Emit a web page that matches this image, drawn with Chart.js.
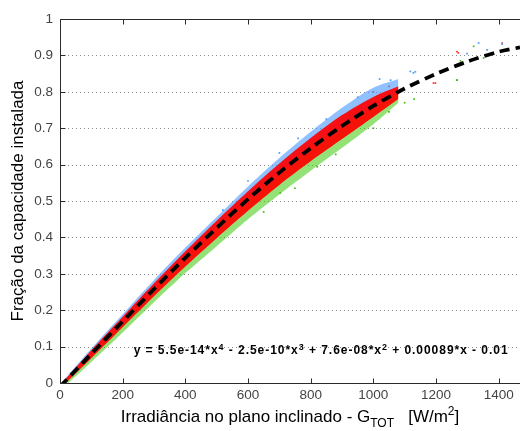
<!DOCTYPE html>
<html>
<head>
<meta charset="utf-8">
<script src="https://cdn.jsdelivr.net/npm/chart.js@4.4.0/dist/chart.umd.min.js"></script>
<style>
  html, body { margin: 0; padding: 0; background: #fff; }
  #wrap { width: 520px; height: 431px; }
</style>
</head>
<body>
<div id="wrap"><canvas id="grafico" width="520" height="431"></canvas></div>
<script>
// curva ajustada (tracejada)
const fitX = [0, 100, 200, 300, 400, 500, 600, 700, 800, 900, 1000, 1100, 1200, 1300, 1400, 1468];
const fitY = [-0.01, 0.080, 0.169, 0.258, 0.344, 0.426, 0.505, 0.578, 0.645, 0.706, 0.761, 0.809, 0.849, 0.883, 0.910, 0.922];

// nuvem de pontos: limites das faixas
const cloudX      = [15, 100, 200, 300, 400, 500, 600, 700, 800, 900, 1000, 1080];
const blueTop     = [0.011, 0.095, 0.189, 0.283, 0.372, 0.456, 0.540, 0.618, 0.690, 0.756, 0.811, 0.835];
const blueBottom  = [0.003, 0.080, 0.169, 0.258, 0.344, 0.426, 0.505, 0.578, 0.645, 0.706, 0.761, 0.800];
const redTop      = [0.008, 0.090, 0.182, 0.274, 0.362, 0.446, 0.527, 0.603, 0.673, 0.736, 0.786, 0.815];
const redBottom   = [-0.003, 0.068, 0.153, 0.238, 0.320, 0.398, 0.473, 0.544, 0.609, 0.670, 0.731, 0.780];
const greenTop    = [0.003, 0.080, 0.169, 0.258, 0.344, 0.426, 0.505, 0.578, 0.645, 0.706, 0.761, 0.800];
const greenBottom = [-0.009, 0.058, 0.139, 0.222, 0.302, 0.376, 0.450, 0.518, 0.583, 0.646, 0.711, 0.770];

// pontos isolados
const blueOutX  = [1055, 1118, 1128, 1134, 1299, 1336, 1363, 1411, 520, 600, 700, 760, 850, 950, 1020];
const blueOutY  = [0.832, 0.856, 0.852, 0.855, 0.905, 0.934, 0.915, 0.931, 0.475, 0.555, 0.632, 0.672, 0.725, 0.785, 0.835];
const redOutX   = [1192, 1198, 1267, 1271, 1411, 1000, 1050];
const redOutY   = [0.824, 0.824, 0.910, 0.907, 0.934, 0.800, 0.815];
const greenOutX = [1267, 1267, 1278, 1320, 1352, 650, 703, 750, 821, 880, 1000, 1050, 1100, 1130];
const greenOutY = [0.832, 0.832, 0.885, 0.925, 0.893, 0.470, 0.522, 0.535, 0.594, 0.628, 0.700, 0.745, 0.770, 0.780];

const yTicks = [0, 0.1, 0.2, 0.3, 0.4, 0.5, 0.6, 0.7, 0.8, 0.9, 1];
const xTicks = [0, 200, 400, 600, 800, 1000, 1200, 1400];

const eqParts = [
    ['y = 5.5e-14*x', '4'],
    [' - 2.5e-10*x', '3'],
    [' + 7.6e-08*x', '2'],
    [' + 0.00089*x - 0.01', '']
];

const FONT = '"Liberation Sans", Arial, Helvetica, sans-serif';

function pts(xs, ys) {
    return xs.map((x, i) => ({ x: x, y: ys[i] }));
}

function band(ys, color, fillTarget, order) {
    return {
        data: pts(cloudX, ys),
        showLine: true,
        borderWidth: 0,
        borderColor: 'rgba(0,0,0,0)',
        backgroundColor: color,
        pointRadius: 0,
        fill: fillTarget,
        tension: 0.3,
        clip: 0,
        order: order
    };
}

function dots(xs, ys, color) {
    return {
        data: pts(xs, ys),
        showLine: false,
        pointRadius: 1.2,
        pointStyle: 'rect',
        borderWidth: 0,
        backgroundColor: color,
        order: 5
    };
}

// grade pontilhada, moldura, marcas e textos
const moldura = {
    id: 'moldura',
    beforeDatasetsDraw(chart) {
        const { ctx, chartArea: a, scales: { y } } = chart;
        ctx.save();
        ctx.strokeStyle = '#8c8c8c';
        ctx.lineWidth = 1;
        ctx.setLineDash([1, 3]);
        yTicks.slice(1, -1).forEach(v => {
            const py = Math.round(y.getPixelForValue(v)) + 0.5;
            ctx.beginPath();
            ctx.moveTo(a.left, py);
            ctx.lineTo(a.right, py);
            ctx.stroke();
        });
        ctx.restore();
    },
    afterDatasetsDraw(chart) {
        const { ctx, chartArea: a, scales: { x, y } } = chart;
        ctx.save();
        ctx.strokeStyle = '#2b2b2b';
        ctx.lineWidth = 1;
        const L = Math.round(a.left) + 0.5, T = Math.round(a.top) + 0.5, B = Math.round(a.bottom) + 0.5;
        ctx.beginPath();
        ctx.moveTo(a.right, T); ctx.lineTo(L, T); ctx.lineTo(L, B); ctx.lineTo(a.right, B);
        ctx.stroke();
        xTicks.forEach(v => {
            const px = Math.round(x.getPixelForValue(v)) + 0.5;
            ctx.beginPath();
            ctx.moveTo(px, B); ctx.lineTo(px, B - 5);
            ctx.moveTo(px, T); ctx.lineTo(px, T + 5);
            ctx.stroke();
        });
        yTicks.forEach(v => {
            const py = Math.round(y.getPixelForValue(v)) + 0.5;
            ctx.beginPath();
            ctx.moveTo(L, py); ctx.lineTo(L + 5, py);
            ctx.stroke();
        });

        // equacao (largura ajustada com espacamento entre letras)
        const ex0 = x.getPixelForValue(235);
        const ey = y.getPixelForValue(0.080);
        ctx.fillStyle = '#000';
        ctx.textBaseline = 'alphabetic';
        let natural = 0, nChars = 0;
        eqParts.forEach(p => {
            ctx.font = 'bold 12px ' + FONT;
            natural += ctx.measureText(p[0]).width;
            nChars += p[0].length;
            if (p[1]) {
                ctx.font = 'bold 9px ' + FONT;
                natural += ctx.measureText(p[1]).width;
                nChars += 1;
            }
        });
        const sp = Math.max(0, (375 - natural) / nChars);
        ctx.letterSpacing = sp.toFixed(2) + 'px';
        let ex = ex0;
        eqParts.forEach(p => {
            ctx.font = 'bold 12px ' + FONT;
            ctx.fillText(p[0], ex, ey);
            ex += ctx.measureText(p[0]).width;
            if (p[1]) {
                ctx.font = 'bold 9px ' + FONT;
                ctx.fillText(p[1], ex, ey - 4);
                ex += ctx.measureText(p[1]).width;
            }
        });
        ctx.letterSpacing = '0px';

        // titulo eixo x
        const parts = [
            ['Irradiância no plano inclinado - G', 17, 0],
            ['TOT', 12, 5],
            ['   [W/m', 17, 0],
            ['2', 12, -7],
            [']', 17, 0]
        ];
        let w = 0;
        parts.forEach(p => { ctx.font = p[1] + 'px ' + FONT; w += ctx.measureText(p[0]).width; });
        let tx = (a.left + a.right) / 2 - w / 2;
        const ty = 422;
        parts.forEach(p => {
            ctx.font = p[1] + 'px ' + FONT;
            ctx.fillText(p[0], tx, ty + p[2]);
            tx += ctx.measureText(p[0]).width;
        });

        // titulo eixo y
        ctx.save();
        ctx.translate(23, (a.top + a.bottom) / 2);
        ctx.rotate(-Math.PI / 2);
        ctx.font = '17px ' + FONT;
        ctx.textAlign = 'center';
        ctx.fillText('Fração da capacidade instalada', 0, 0);
        ctx.restore();
        ctx.restore();
    }
};

const ctx = document.getElementById('grafico').getContext('2d');
const chart = new Chart(ctx, {
    type: 'scatter',
    data: {
        datasets: [
            {
                data: pts(fitX, fitY),
                showLine: true,
                borderColor: '#000',
                borderWidth: 3.8,
                borderDash: [10, 6],
                pointRadius: 0,
                fill: false,
                tension: 0.3,
                clip: 0,
                order: 0
            },
            band(redTop, 'rgba(255,0,0,0.92)', 2, 1),
            band(redBottom, 'rgba(0,0,0,0)', false, 1),
            band(greenTop, 'rgba(60,200,10,0.55)', 4, 2),
            band(greenBottom, 'rgba(0,0,0,0)', false, 2),
            band(blueTop, 'rgba(70,150,255,0.6)', 6, 3),
            band(blueBottom, 'rgba(0,0,0,0)', false, 3),
            dots(blueOutX, blueOutY, '#4a9cff'),
            dots(redOutX, redOutY, '#ff3030'),
            dots(greenOutX, greenOutY, '#40c010')
        ]
    },
    options: {
        responsive: false,
        animation: false,
        events: [],
        layout: { autoPadding: false, padding: { top: 19, right: 0, left: 0, bottom: 0 } },
        plugins: {
            legend: { display: false },
            tooltip: { enabled: false }
        },
        scales: {
            x: {
                type: 'linear',
                min: 0,
                max: 1468,
                grid: { display: false, drawTicks: false },
                border: { display: false },
                ticks: {
                    stepSize: 200,
                    includeBounds: false,
                    maxRotation: 0,
                    padding: 4,
                    color: '#444',
                    font: { family: FONT, size: 13.5 },
                    callback: v => String(v)
                },
                afterFit(scale) {
                    scale.height = 48;
                    scale.paddingLeft = 0;
                    scale.paddingRight = 0;
                }
            },
            y: {
                min: 0,
                max: 1,
                grid: { display: false, drawTicks: false },
                border: { display: false },
                ticks: {
                    stepSize: 0.1,
                    padding: 7,
                    color: '#444',
                    font: { family: FONT, size: 13.5 },
                    callback: v => String(Number(v.toFixed(1)))
                },
                afterFit(scale) { scale.width = 60; }
            }
        }
    },
    plugins: [moldura]
});
</script>
</body>
</html>
